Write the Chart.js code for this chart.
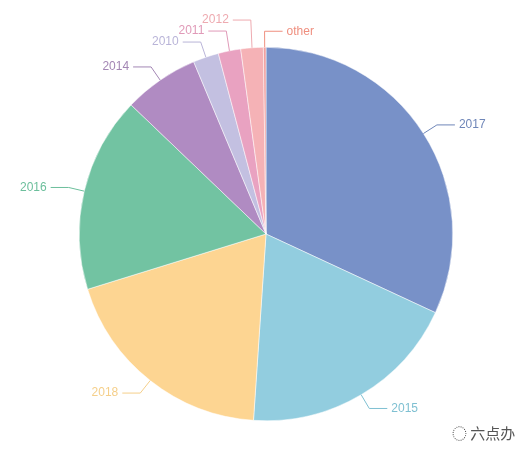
<!DOCTYPE html>
<html><head><meta charset="utf-8">
<script src="https://cdn.jsdelivr.net/npm/chart.js@4/dist/chart.umd.min.js"></script>
<style>body{margin:0;background:#fff}#wrap{width:528px;height:456px;position:relative}
#wm{position:absolute;left:452px;top:422px;font:15px "Noto Sans CJK SC";color:#555}</style>
</head><body><div id="wrap"><canvas id="c"></canvas><div id="wm">◌ 六点办</div></div>
<script>
const labels = ["2017", "2015", "2018", "2016", "2014", "2010", "2011", "2012", "other"];
const values = [115, 69, 69, 61, 23.5, 8, 7, 7, 0.8];
const colors = ["#7891c8", "#92cddf", "#fdd592", "#72c3a2", "#b08bc2", "#c3c0e1", "#e9a2c1", "#f5b2b6", "#f0a0a0"];
const textColors = ["#6f86b8", "#7fc0d2", "#f5cf8a", "#6cbf9c", "#a386b4", "#b9b4d8", "#e09ab8", "#eeaab0", "#ef8f7f"];

const labelPlugin = {
  id: 'outLabels',
  afterDatasetsDraw(chart) {
    const ctx = chart.ctx;
    const arcs = chart.getDatasetMeta(0).data;
    const items = arcs.map((a, i) => {
      const mid = (a.startAngle + a.endAngle) / 2;
      const r = a.outerRadius;
      const p1 = [a.x + Math.cos(mid) * r, a.y + Math.sin(mid) * r];
      const p2 = [a.x + Math.cos(mid) * (r + 16), a.y + Math.sin(mid) * (r + 16)];
      const right = Math.cos(mid) > -0.01 && i !== 7;
      return { i, p1, p2, right, y: p2[1] };
    });
    // spread left labels upward so they don't overlap
    const left = items.filter(d => !d.right).sort((a, b) => b.y - a.y);
    for (let k = 1; k < left.length; k++) {
      if (left[k - 1].y - left[k].y < 11) left[k].y = left[k - 1].y - 11;
    }
    ctx.save();
    ctx.font = '12px "Liberation Sans"';
    ctx.textBaseline = 'middle';
    items.forEach(d => {
      const c = textColors[d.i];
      const endX = d.right ? d.p2[0] + 18 : d.p2[0] - 18;
      ctx.strokeStyle = c; ctx.lineWidth = 1;
      ctx.beginPath();
      ctx.moveTo(d.p1[0], d.p1[1]);
      ctx.lineTo(d.p2[0], d.y);
      ctx.lineTo(endX, d.y);
      ctx.stroke();
      ctx.fillStyle = c;
      ctx.textAlign = d.right ? 'left' : 'right';
      ctx.fillText(labels[d.i], endX + (d.right ? 4 : -4), d.y);
    });
    ctx.restore();
  }
};

new Chart(document.getElementById('c'), {
  type: 'pie',
  data: { labels, datasets: [{ data: values, backgroundColor: colors, borderColor: '#fff', borderWidth: 0.5 }] },
  options: {
    responsive: true, maintainAspectRatio: false, animation: false,
    layout: { padding: { top: 46, bottom: 34, left: 79, right: 75 } },
    plugins: { legend: { display: false }, tooltip: { enabled: false } }
  },
  plugins: [labelPlugin]
});
</script></body></html>
